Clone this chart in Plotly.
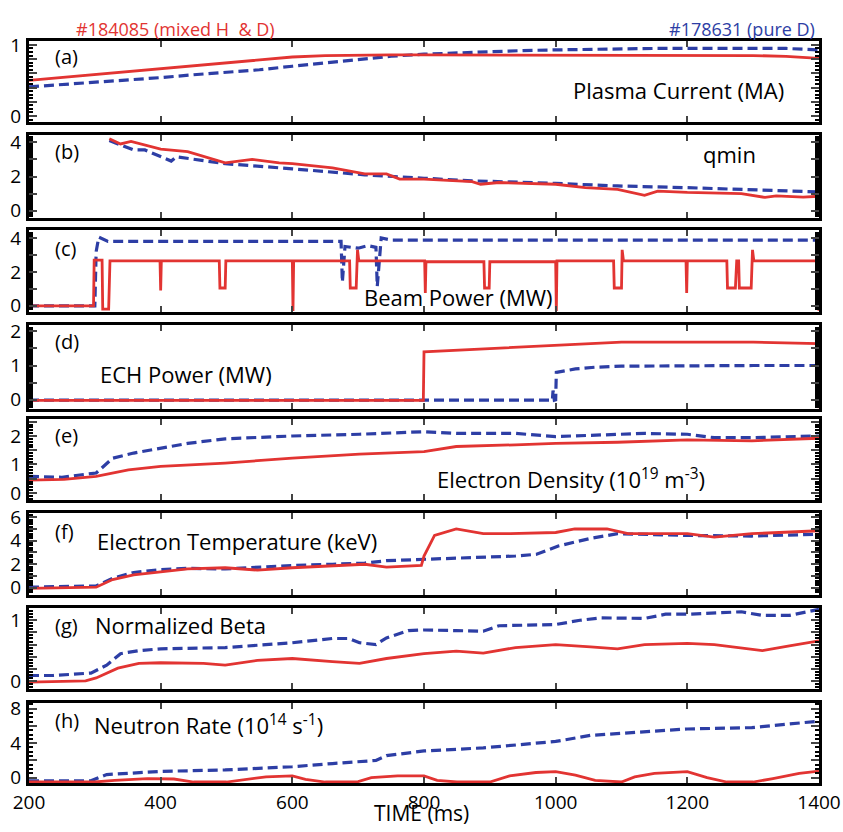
import plotly.graph_objects as go

# ---------------- data ----------------
t_a = [200, 250, 300, 350, 400, 450, 500, 550, 600, 650, 700, 750, 800, 850, 900, 950,
       1000, 1050, 1100, 1150, 1200, 1250, 1300, 1350, 1400]
ip_red = [0.50, 0.54, 0.58, 0.62, 0.66, 0.70, 0.74, 0.79, 0.83, 0.85, 0.86, 0.86, 0.86, 0.86,
          0.86, 0.86, 0.86, 0.86, 0.86, 0.86, 0.86, 0.85, 0.85, 0.84, 0.81]
ip_blue = [0.41, 0.44, 0.48, 0.51, 0.54, 0.58, 0.61, 0.65, 0.70, 0.75, 0.80, 0.84, 0.87, 0.89,
           0.91, 0.92, 0.93, 0.94, 0.95, 0.95, 0.95, 0.95, 0.95, 0.95, 0.93]

t_q_red = [322, 339, 355, 400, 441, 498, 539, 580, 600, 661, 710, 743, 763, 800, 873, 886, 914,
           1000, 1045, 1094, 1135, 1155, 1200, 1282, 1318, 1335, 1376, 1400]
q_red = [4.2, 3.9, 4.05, 3.6, 3.45, 2.8, 3.0, 2.8, 2.75, 2.5, 2.15, 2.15, 1.85, 1.85, 1.7, 1.55,
         1.65, 1.55, 1.35, 1.25, 0.9, 1.15, 1.07, 1.0, 0.78, 0.87, 0.8, 0.85]
t_q_blue = [322, 359, 376, 416, 424, 498, 600, 710, 800, 873, 1000, 1094, 1200, 1282, 1400]
q_blue = [4.1, 3.55, 3.55, 2.9, 3.15, 2.75, 2.45, 2.1, 1.9, 1.75, 1.6, 1.45, 1.35, 1.25, 1.1]

t_pb_red = [200, 298, 299, 311, 312, 321, 323, 399, 400, 401, 489, 490, 498, 499, 600, 601, 602,
            687, 688, 697, 699, 701, 801, 802, 803, 891, 892, 899, 900, 1000, 1001, 1002,
            1088, 1089, 1100, 1101, 1103, 1198, 1199, 1200, 1260, 1261, 1273, 1275, 1278, 1279,
            1297, 1299, 1301, 1398, 1400]
pb_red = [0, 0, 2.7, 2.7, -0.2, -0.2, 2.65, 2.65, 0.9, 2.65, 2.65, 1.05, 1.05, 2.65, 2.65, -0.3, 2.65,
          2.65, 1.05, 1.05, 3.3, 2.65, 2.65, 0.75, 2.6, 2.6, 1.05, 1.05, 2.6, 2.6, -0.3, 2.65,
          2.65, 1.05, 1.05, 3.3, 2.65, 2.65, 0.75, 2.65, 2.65, 1.05, 1.05, 2.65, 2.65, 1.05,
          1.05, 3.3, 2.65, 2.65, -0.3]
t_pb_blue = [200, 300, 302, 306, 320, 674, 676, 680, 700, 715, 727, 729, 735, 750, 1400]
pb_blue = [0, 0, 3.2, 4.05, 3.8, 3.8, 1.4, 3.5, 3.4, 3.55, 3.45, 1.15, 4.0, 3.88, 3.88]

t_ech_red = [200, 799, 800, 850, 900, 1000, 1050, 1100, 1200, 1300, 1398, 1400]
ech_red = [-0.02, -0.02, 1.4, 1.45, 1.5, 1.58, 1.65, 1.68, 1.68, 1.68, 1.64, -0.25]
t_ech_blue = [200, 995, 996, 998, 1000, 1001, 1030, 1060, 1100, 1200, 1300, 1400]
ech_blue = [-0.01, -0.01, 0.27, -0.01, 0.0, 0.8, 0.9, 0.95, 0.98, 1.0, 1.0, 1.0]

t_ne_red = [200, 253, 302, 351, 400, 498, 600, 702, 800, 849, 939, 1000, 1094, 1200, 1298, 1400]
ne_red = [0.45, 0.48, 0.58, 0.81, 0.93, 1.05, 1.22, 1.36, 1.45, 1.63, 1.69, 1.74, 1.78, 1.86, 1.83, 1.92]
t_ne_blue = [200, 250, 302, 327, 359, 400, 441, 498, 600, 702, 800, 849, 939, 1000, 1053, 1135,
             1200, 1241, 1298, 1400]
ne_blue = [0.58, 0.55, 0.7, 1.22, 1.4, 1.57, 1.74, 1.9, 2.0, 2.06, 2.15, 2.09, 2.09, 1.98, 2.03,
           2.09, 2.06, 1.94, 1.94, 2.0]

t_te_red = [200, 253, 302, 327, 359, 400, 441, 498, 547, 600, 661, 710, 743, 796, 800, 816, 849,
            890, 931, 1000, 1029, 1078, 1110, 1200, 1241, 1298, 1400]
te_red = [-0.05, 0.0, 0.05, 0.7, 1.1, 1.35, 1.6, 1.7, 1.5, 1.7, 1.9, 2.0, 1.75, 1.9, 2.7, 4.45, 5.0,
          4.6, 4.6, 4.7, 5.0, 5.0, 4.6, 4.6, 4.3, 4.6, 4.85]
t_te_blue = [200, 302, 327, 359, 400, 441, 498, 600, 661, 710, 743, 800, 849, 939, 971, 1004, 1053,
             1094, 1200, 1298, 1400]
te_blue = [0.05, 0.15, 0.8, 1.3, 1.55, 1.65, 1.6, 1.9, 2.0, 2.1, 2.3, 2.4, 2.5, 2.7, 2.85, 3.55,
           4.2, 4.6, 4.45, 4.4, 4.55]

t_bn_red = [200, 286, 302, 335, 367, 400, 465, 498, 547, 600, 661, 702, 743, 800, 849, 890, 939,
            1000, 1053, 1094, 1135, 1200, 1241, 1314, 1355, 1400]
bn_red = [-0.02, 0.0, 0.05, 0.21, 0.29, 0.3, 0.29, 0.26, 0.34, 0.37, 0.32, 0.29, 0.37, 0.45, 0.49,
          0.46, 0.55, 0.6, 0.56, 0.53, 0.6, 0.62, 0.6, 0.5, 0.58, 0.66]
t_bn_blue = [200, 237, 294, 318, 339, 367, 400, 498, 600, 661, 686, 702, 727, 743, 776, 800, 849,
             890, 914, 1000, 1037, 1069, 1135, 1167, 1200, 1282, 1314, 1355, 1400]
bn_blue = [0.09, 0.09, 0.13, 0.26, 0.45, 0.5, 0.53, 0.55, 0.63, 0.7, 0.7, 0.63, 0.6, 0.71, 0.83,
           0.84, 0.83, 0.82, 0.91, 0.93, 1.0, 1.04, 1.03, 1.1, 1.1, 1.14, 1.08, 1.08, 1.18]

t_nr_red = [200, 300, 330, 380, 420, 450, 500, 520, 560, 600, 620, 650, 700, 720, 760, 800, 820,
            850, 900, 930, 970, 1000, 1030, 1060, 1100, 1120, 1150, 1200, 1230, 1260, 1300,
            1330, 1370, 1400]
nr_red = [-0.5, -0.5, -0.3, -0.1, -0.15, -0.5, -0.5, -0.3, 0.1, 0.2, -0.2, -0.5, -0.45, 0.0, 0.2,
          0.2, -0.3, -0.5, -0.5, 0.2, 0.6, 0.7, 0.3, -0.3, -0.5, 0.1, 0.5, 0.7, 0.0, -0.5, -0.5,
          -0.1, 0.5, 0.75]
t_nr_blue = [200, 294, 318, 400, 498, 600, 661, 727, 743, 800, 890, 1000, 1053, 1135, 1200, 1298, 1400]
nr_blue = [-0.36, -0.36, 0.36, 0.73, 0.9, 1.27, 1.64, 2.0, 2.55, 3.1, 3.45, 4.2, 4.9, 5.27, 5.64,
           5.8, 6.55]

x_ticks = [200, 400, 600, 800, 1000, 1200, 1400]

RED = "rgb(226,52,50)"
BLUE = "rgb(45,62,165)"

# ------------- layout geometry (pixels) -------------
W, H = 843, 832
XL, XR = 29, 819
panels = [  # top, bottom (px)
    (32, 114), (128, 212), (225, 308), (322, 407),
    (418, 500), (513, 597), (610, 693), (707, 789),
]
series = [
    (t_a, ip_red, t_a, ip_blue),
    (t_q_red, q_red, t_q_blue, q_blue),
    (t_pb_red, pb_red, t_pb_blue, pb_blue),
    (t_ech_red, ech_red, t_ech_blue, ech_blue),
    (t_ne_red, ne_red, t_ne_blue, ne_blue),
    (t_te_red, te_red, t_te_blue, te_blue),
    (t_bn_red, bn_red, t_bn_blue, bn_blue),
    (t_nr_red, nr_red, t_nr_blue, nr_blue),
]
yconf = [
    dict(range=[-0.08, 1.05], tv=[0, 0.2, 0.4, 0.6, 0.8, 1.0], tt=["0", "", "", "", "", "1"], minor=0.05),
    dict(range=[-0.4, 4.4], tv=[0, 1, 2, 3, 4], tt=["0", "", "2", "", "4"], minor=0.1),
    dict(range=[-0.35, 4.45], tv=[0, 1, 2, 3, 4], tt=["0", "", "2", "", "4"], minor=0.1),
    dict(range=[-0.26, 2.17], tv=[0, 0.5, 1, 1.5, 2], tt=["0", "", "1", "", "2"], minor=0.05),
    dict(range=[-0.24, 2.58], tv=[0, 0.5, 1, 1.5, 2, 2.5], tt=["0", "", "1", "", "2", ""], minor=0.1),
    dict(range=[-0.6, 6.4], tv=[0, 1, 2, 3, 4, 5, 6], tt=["0", "", "2", "", "4", "", "6"], minor=0.2),
    dict(range=[-0.13, 1.21], tv=[0, 0.2, 0.4, 0.6, 0.8, 1.0, 1.2], tt=["0", "", "", "", "", "1", ""], minor=0.05),
    dict(range=[-0.6, 8.7], tv=[0, 2, 4, 6, 8], tt=["0", "", "4", "", "8"], minor=0.5),
]

FONT = "Open Sans"
fig = go.Figure()
layout = dict(
    width=W, height=H, margin=dict(l=XL, r=W - XR, t=0, b=0),
    paper_bgcolor="white", plot_bgcolor="white", showlegend=False,
    font=dict(family=FONT, color="black", size=17),
)

for i, ((tr, vr, tb, vb), (top, bot), yc) in enumerate(zip(series, panels, yconf)):
    n = i + 1
    xa = "x" if n == 1 else f"x{n}"
    ya = "y" if n == 1 else f"y{n}"
    fig.add_trace(go.Scatter(x=tb, y=vb, mode="lines", xaxis=xa, yaxis=ya,
                             line=dict(color=BLUE, width=3.2, dash="10px,5px")))
    fig.add_trace(go.Scatter(x=tr, y=vr, mode="lines", xaxis=xa, yaxis=ya,
                             line=dict(color=RED, width=2.8)))
    dom = [1 - bot / H, 1 - top / H]
    layout["xaxis" if n == 1 else f"xaxis{n}"] = dict(
        domain=[0, 1], anchor=ya, range=[200, 1400], tickvals=x_ticks,
        showticklabels=(n == 8), ticks="inside", ticklen=6, tickwidth=2,
        mirror="allticks", showline=True, linewidth=3, linecolor="black",
        showgrid=False, zeroline=False, tickfont=dict(size=19), ticklabelstandoff=0,
        **({} if n == 1 else {"matches": "x"}),
    )
    layout["yaxis" if n == 1 else f"yaxis{n}"] = dict(
        domain=dom, anchor=xa, range=yc["range"], tickmode="array",
        tickvals=yc["tv"], ticktext=yc["tt"], ticks="inside", ticklen=8, tickwidth=2,
        mirror="allticks", showline=True, linewidth=3, linecolor="black",
        showgrid=False, zeroline=False, tickfont=dict(size=19), ticklabelstandoff=1,
        minor=dict(dtick=yc["minor"], tick0=0, ticks="inside", ticklen=4, tickwidth=1.5,
                   tickcolor="black", showgrid=False),
    )

fig.update_layout(**layout)


def px2paper(x, y):
    return (x - XL) / (XR - XL), 1 - y / H


def ann(text, x, y, xanchor="left", size=22, color="black"):
    px, py = px2paper(x, y)
    fig.add_annotation(text=text, x=px, y=py, xref="paper", yref="paper", showarrow=False,
                       xanchor=xanchor, yanchor="middle", borderpad=0,
                       font=dict(size=size, color=color, family=FONT))


ann("#184085 (mixed H&nbsp;&nbsp;&amp; D)", 175, 19, xanchor="center", size=18, color=RED)
ann("#178631 (pure D)", 816, 19, xanchor="right", size=18, color=BLUE)
for lab, y in zip(["(a)", "(b)", "(c)", "(d)", "(e)", "(f)", "(g)", "(h)"],
                  [47, 144, 243, 338, 434, 532, 628, 725]):
    ann(lab, 54, y, size=20)
ann("Plasma Current (MA)", 678, 82, xanchor="center")
ann("qmin", 729, 147, xanchor="center")
ann("Beam Power (MW)", 458, 293, xanchor="center")
ann("ECH Power (MW)", 186, 372, xanchor="center")
ann("Electron Density (10<sup>19</sup> m<sup>-3</sup>)", 571, 478, xanchor="center")
ann("Electron Temperature (keV)", 237, 542, xanchor="center")
ann("Normalized Beta", 180, 628, xanchor="center")
ann("Neutron Rate (10<sup>14</sup> s<sup>-1</sup>)", 208, 729, xanchor="center")
ann("TIME (ms)", 421, 820, xanchor="center", size=21)

fig.write_html("out.html")
